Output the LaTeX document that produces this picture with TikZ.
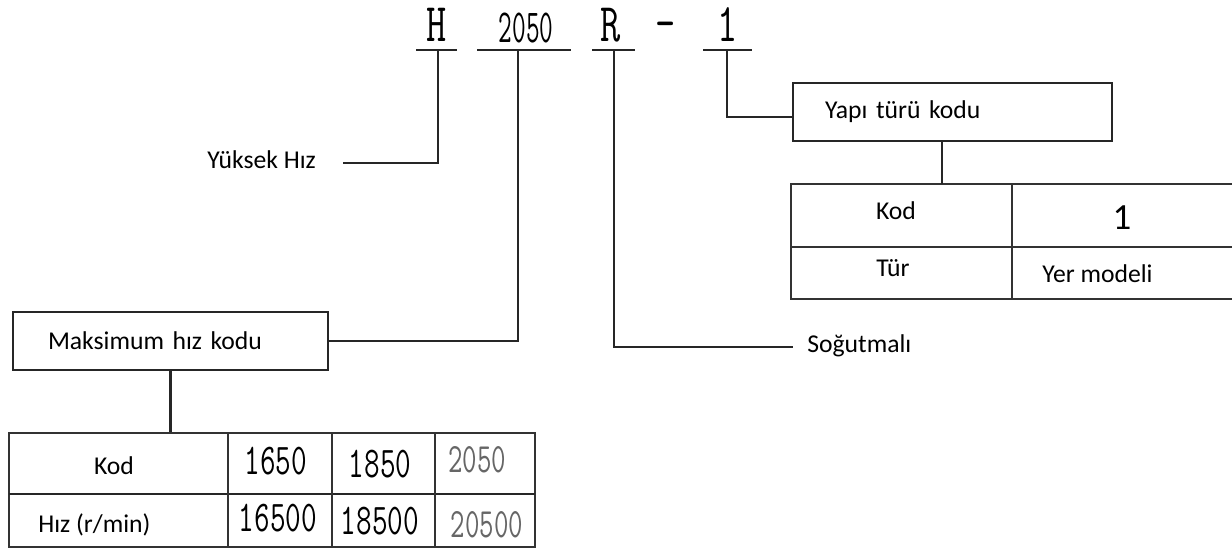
\documentclass[tikz,border=0pt]{standalone}
\usepackage{fontspec}
\setmainfont{Carlito}
\usepackage{graphicx}
\begin{document}
\begin{tikzpicture}[x=0.02cm,y=-0.02cm,
  wire/.style={line width=1.3pt,black!85},
  grid/.style={line width=0.9pt,black!80},
  label/.style={inner sep=0pt,font=\fontsize{14.6}{17}\selectfont},
  code/.style={inner sep=0pt,font=\fontsize{31}{34}\ttfamily},
  num/.style={inner sep=0pt,font=\fontsize{25}{28}\ttfamily},
  box/.style={draw,line width=1.4pt,black!85,text=black,minimum height=1.16cm,
    align=left,font=\fontsize{14.6}{17}\selectfont}]
\useasboundingbox (0,0) rectangle (1232,550);

% model code
\node[code,anchor=base] (cH) at (437,42) {\scalebox{0.72}[1]{H}};
\node[code,anchor=base,font=\fontsize{27}{30}\ttfamily] (c2050) at (526,43) {\scalebox{0.56}[1]{2050}};
\node[code,anchor=base] (cR) at (611,42) {\scalebox{0.72}[1]{R}};
\node[code] (cdash) at (666,31) {\scalebox{0.72}[1]{-}};
\node[code,anchor=base] (c1) at (728,42) {\scalebox{0.72}[1]{1}};
\draw[wire] (416,50) -- (457,50);
\draw[wire] (477,50) -- (571,50);
\draw[wire] (592,50) -- (635,50);
\draw[wire] (703,50) -- (752,50);
\coordinate (uH) at (438,50);
\coordinate (u2050) at (518,50);
\coordinate (uR) at (614,50);
\coordinate (u1) at (727,50);

% labels and boxes
\node[label,anchor=base west] (yuksek) at (207,169) {Yüksek Hız};
\coordinate (yend) at (343,163);
\node[label,anchor=base west] (sogut) at (807,353) {Soğutmalı};
\coordinate (send) at (793,347);
\node[box,minimum width=6.3cm,text width=4.9cm,inner xsep=0.7cm] (maxbox) at (170.5,341) {Maksimum hız kodu};
\node[box,minimum width=6.38cm,text width=5.1cm,inner xsep=0.64cm] (yapi) at (952.5,112) {Yapı türü kodu};

\draw[wire] (uH) |- (yend);
\draw[wire] (u2050) |- (maxbox.east);
\draw[wire] (uR) |- (send);
\draw[wire] (u1) |- ([yshift=-0.1cm]yapi.west);

% speed table
\node[draw,grid,minimum width=10.52cm,minimum height=2.28cm,inner sep=0pt] (ltab) at (272,490) {};
\draw[line width=1.5pt,black!85] (9,494) -- (535,494);
\draw[grid] (228,433) -- (228,547);
\draw[grid] (332,433) -- (332,547);
\draw[grid] (435,433) -- (435,547);
\draw[wire] (maxbox.south) -- (maxbox.south |- ltab.north);
\node[label,anchor=base] (lkod) at (114,475) {Kod};
\node[label,anchor=base west] (lhiz) at (38,533) {Hız (r/min)};
\node[num,anchor=base] (k1650) at (276,475) {\scalebox{0.69}[1]{1650}};
\node[num,anchor=base] (k1850) at (380,478) {\scalebox{0.69}[1]{1850}};
\node[num,anchor=base,text=black!60] (k2050) at (477,473) {\scalebox{0.64}[0.95]{2050}};
\node[num,anchor=base] (h16500) at (278,532) {\scalebox{0.69}[1]{16500}};
\node[num,anchor=base] (h18500) at (380,535) {\scalebox{0.69}[1]{18500}};
\node[num,anchor=base,text=black!60] (h20500) at (487,538) {\scalebox{0.64}[0.95]{20500}};

% type table
\draw[grid] (1232,184) -- (791,184) -- (791,299) -- (1232,299);
\draw[grid] (791,247) -- (1232,247);
\draw[grid] (1012,184) -- (1012,299);
\coordinate (rtop) at (942,184);
\draw[wire] (yapi.south -| rtop) -- (rtop);
\node[label,anchor=base] (rkod) at (896,220) {Kod};
\node[label,anchor=base,font=\fontsize{21}{24}\selectfont] (r1) at (1122,230) {1};
\node[label,anchor=base] (rtur) at (893,277) {Tür};
\node[label,anchor=base west] (ryer) at (1042,283) {Yer modeli};
\end{tikzpicture}
\end{document}
